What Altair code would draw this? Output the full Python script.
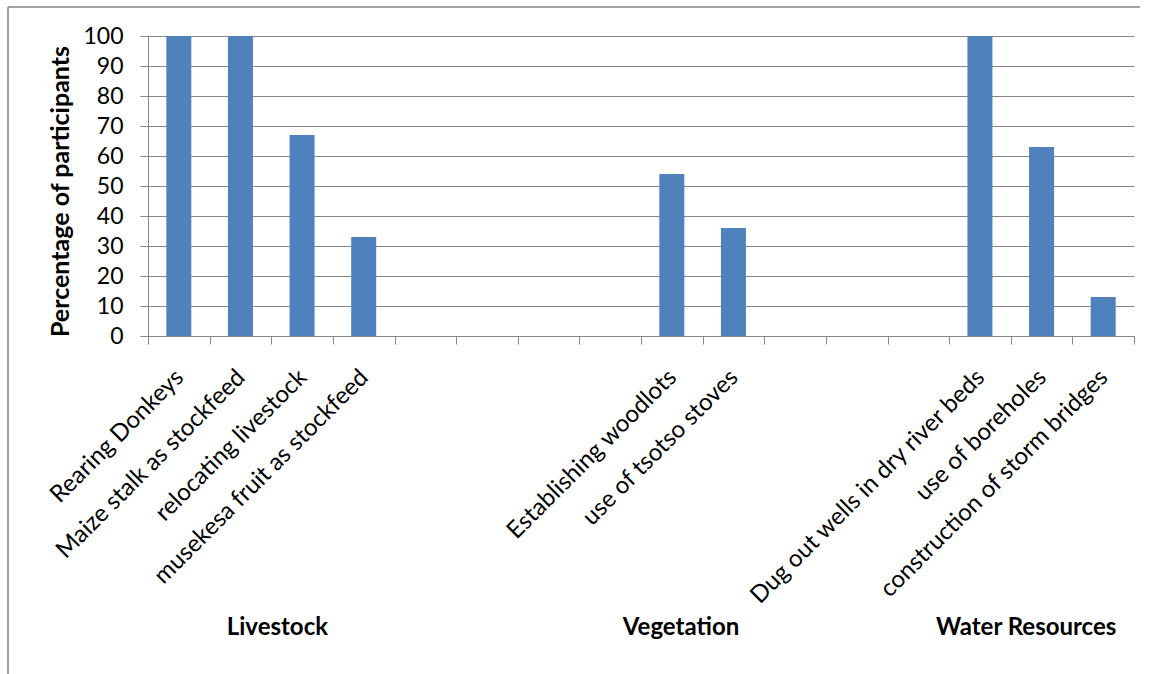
import json
import altair as alt
import pandas as pd

# Adaptation measures, one slot per category (blank slots separate the groups)
categories = [
    "Rearing Donkeys", "Maize stalk as stockfeed", "relocating livestock",
    "musekesa fruit as stockfeed", "", "", "", "",
    "Establishing woodlots", "use of tsotso stoves", "", "", "",
    "Dug out wells in dry river beds", "use of boreholes",
    "construction of storm bridges",
]
values = [100, 100, 67, 33, None, None, None, None,
          54, 36, None, None, None, 100, 63, 13]

# Group captions and where they sit, in slot units along the category axis
groups = ["Livestock", "Vegetation", "Water Resources"]
group_centers = [2.1, 8.65, 14.25]

slots = list(range(len(categories)))
bars_df = pd.DataFrame({"slot": slots, "category": categories, "value": values}).dropna()
groups_df = pd.DataFrame({"group": groups, "pos": group_centers})

FONT = "Lato"
GRID = "#868686"
BAR = "#4F81BD"

label_expr = json.dumps(categories) + "[datum.value]"

bars = alt.Chart(bars_df).mark_bar(size=25, color=BAR).encode(
    x=alt.X(
        "slot:O",
        scale=alt.Scale(domain=slots, paddingInner=0, paddingOuter=0),
        axis=alt.Axis(
            title=None, labelExpr=label_expr, labelAngle=-45, tickBand="extent",
            grid=False, tickSize=8, tickColor=GRID, domainColor=GRID,
            labelFont=FONT, labelFontSize=24, labelColor="black",
            labelPadding=21, labelOffset=-8, labelOverlap=False, labelLimit=500,
        ),
    ),
    y=alt.Y(
        "value:Q",
        scale=alt.Scale(domain=[0, 100]),
        axis=alt.Axis(
            values=list(range(0, 101, 10)), title="Percentage of participants",
            titleFont=FONT, titleFontSize=25, titleFontWeight="bold", titleColor="black",
            titleX=-88, titleY=155, titleAlign="center", titleBaseline="middle",
            gridColor=GRID, tickSize=8, tickColor=GRID, domainColor=GRID,
            labelFont=FONT, labelFontSize=23, labelColor="black", labelPadding=17,
        ),
    ),
)

group_labels = alt.Chart(groups_df).mark_text(
    font=FONT, fontSize=24, fontWeight="bold", color="black", baseline="middle"
).encode(
    x=alt.X("pos:Q", scale=alt.Scale(domain=[0, len(categories)]), axis=None),
    y=alt.value(592),
    text="group:N",
)

dummy = pd.DataFrame({"a": [0]})
border_top = alt.Chart(dummy).mark_rule(color=GRID, strokeWidth=1.5).encode(
    x=alt.value(-140), x2=alt.value(992), y=alt.value(-29)
)
border_left = alt.Chart(dummy).mark_rule(color=GRID, strokeWidth=1.5).encode(
    x=alt.value(-140), y=alt.value(-29), y2=alt.value(640)
)

chart = (
    alt.layer(bars, group_labels, border_top, border_left)
    .resolve_scale(x="independent")
    .properties(
        width=986, height=300,
        autosize=alt.AutoSizeParams(type="none"),
        padding={"left": 148, "top": 36, "right": 15, "bottom": 338},
        background="white",
    )
    .configure_view(stroke=None)
)

chart.save("out.html", embed_options={"renderer": "svg", "actions": False})
